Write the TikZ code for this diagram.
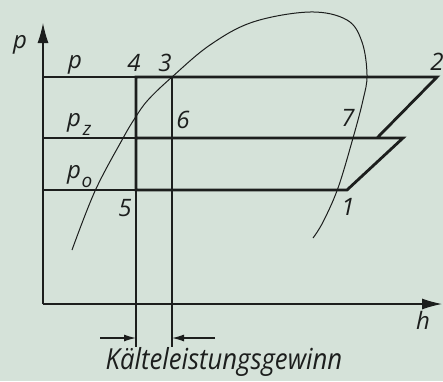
\documentclass[tikz,border=0pt]{standalone}
\usepackage{fontspec}
\setmainfont{Open Sans}
\usetikzlibrary{arrows.meta}
\definecolor{bg}{RGB}{213,226,217}
\definecolor{ink}{RGB}{28,30,29}
\begin{document}
\begin{tikzpicture}[x=1pt,y=-1pt,
  thinln/.style={draw=ink,line width=1.2pt},
  thickln/.style={draw=ink,line width=2.8pt,line join=miter},
  lbl/.style={font=\fontsize{24}{24}\selectfont\itshape,text=ink,inner sep=0pt},
  subs/.style={font=\fontsize{19}{19}\selectfont\itshape,text=ink,inner sep=0pt},
  axarrow/.style={-{Latex[length=20pt,width=11pt]}},
  dimarrow/.style={-{Latex[length=12pt,width=7pt]}}]
\fill[bg] (0,0) rectangle (443,381);
\useasboundingbox (0,0) rectangle (443,381);
% points
\coordinate (O) at (43,304);
\coordinate (Ytip) at (43,23);
\coordinate (Xtip) at (442,304);
\coordinate (P0) at (43,77);
\coordinate (Z0) at (43,138);
\coordinate (L0) at (43,190);
\coordinate (A4) at (136,77);
\coordinate (A3) at (172,77);
\coordinate (A2) at (437,77);
\coordinate (B5z) at (136,138);
\coordinate (B6) at (172,138);
\coordinate (B7) at (377,138);
\coordinate (Bz) at (403,138);
\coordinate (C5) at (136,190);
\coordinate (C1) at (347,190);
\coordinate (D5) at (136,347);
\coordinate (D3) at (172,347);
\coordinate (E1) at (100,338);
\coordinate (E2) at (136,338);
\coordinate (E3) at (172,338);
\coordinate (E4) at (215,338);
% axes
\draw[thinln,axarrow] (O) -- (Ytip);
\draw[thinln,axarrow] (O) -- (Xtip);
% thin pressure lines
\draw[thinln] (P0) -- (A4);
\draw[thinln] (Z0) -- (B5z);
\draw[thinln] (L0) -- (C5);
\draw[thinln] (C5) -- (D5);
\draw[thinln] (B6) -- (D3);
% dimension arrows
\draw[thinln,dimarrow] (E1) -- (E2);
\draw[thinln,dimarrow] (E4) -- (E3);
% saturation curve
\draw[thinln,line width=1pt] plot[smooth,tension=0.6] coordinates {
 (72,250) (95,191) (122,140) (135,118) (148,100) (172,77) (210,45)
 (253,22) (310,12) (347,20) (362,42) (367,75) (363,100) (353,138)
 (338,188) (323,222) (313,238)};
% thick cycle
\draw[thickln] (B7) -- (A2) -- (A4) -- (C5) -- (C1) -- (Bz) -- (B5z);
\draw[thickln] (A3) -- (B6);
% labels
\node[lbl] (lp) at (20,45) {p};
\node[lbl] (lpp) at (75,65) {p};
\node[lbl] (l4) at (134,63) {4};
\node[lbl] (l3) at (165,63) {3};
\node[lbl] (lpz) at (74,123) {p};
\node[subs] (lz) at (87,130) {z};
\node[lbl] (lpo) at (74,175) {p};
\node[subs] (lo) at (87,182) {o};
\node[lbl] (l6) at (183,120) {6};
\node[lbl] (l5) at (125,208) {5};
\node[lbl] (l1) at (348,207) {1};
\node[lbl] (l7) at (348,118) {7};
\node[lbl] (l2) at (437,62) {2};
\node[lbl] (lh) at (423,320) {h};
\node[lbl,font=\fontsize{29}{29}\selectfont\itshape,xscale=0.886] (cap) at (224,362) {Kälteleistungsgewinn};
\end{tikzpicture}
\end{document}
